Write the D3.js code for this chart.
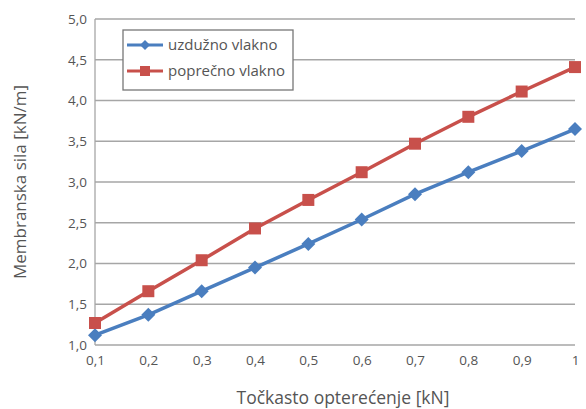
<!DOCTYPE html>
<html>
<head>
<meta charset="utf-8">
<script src="https://cdn.jsdelivr.net/npm/d3@7"></script>
<style>
  body { margin: 0; background: #fff; }
  text { font-family: 'Open Sans', sans-serif; fill: #555; }
</style>
</head>
<body>
<script>
const width = 586
const height = 409

// tocke opterecenja [kN]
const loads = [0.1, 0.2, 0.3, 0.4, 0.5, 0.6, 0.7, 0.8, 0.9, 1.0]
const loadLabels = ['0,1', '0,2', '0,3', '0,4', '0,5', '0,6', '0,7', '0,8', '0,9', '1']
const uzduzno = [1.12, 1.37, 1.66, 1.95, 2.24, 2.54, 2.85, 3.12, 3.38, 3.65]
const poprecno = [1.27, 1.66, 2.04, 2.43, 2.78, 3.12, 3.47, 3.80, 4.11, 4.41]
const yTicks = [1.0, 1.5, 2.0, 2.5, 3.0, 3.5, 4.0, 4.5, 5.0]

const series = [
  { name: 'uzdužno vlakno', values: uzduzno, color: '#4a7ebf', marker: 'diamond' },
  { name: 'poprečno vlakno', values: poprecno, color: '#c8504b', marker: 'square' }
]

const margin = { top: 19, right: 11, bottom: 64, left: 95 }

const svg = d3.select('body').append('svg')
  .attr('width', width)
  .attr('height', height)

const x = d3.scalePoint()
  .domain(loads)
  .range([margin.left, width - margin.right])

const y = d3.scaleLinear()
  .domain([1, 5])
  .range([height - margin.bottom, margin.top])

// mreza
svg.append('g')
  .selectAll('line')
  .data(yTicks)
  .enter()
  .append('line')
  .attr('x1', margin.left)
  .attr('x2', width - margin.right)
  .attr('y1', d => y(d))
  .attr('y2', d => y(d))
  .attr('stroke', '#a6a6a6')
  .attr('stroke-width', 1.3)

// lijeva os
svg.append('line')
  .attr('x1', margin.left).attr('x2', margin.left)
  .attr('y1', y(5)).attr('y2', y(1))
  .attr('stroke', '#a6a6a6')
  .attr('stroke-width', 1.3)

const yAxis = svg.append('g')
  .attr('transform', `translate(${margin.left},0)`)
  .call(d3.axisLeft(y).tickValues(yTicks).tickSize(0).tickPadding(8)
    .tickFormat(d => d3.format('.1f')(d).replace('.', ',')))
yAxis.select('.domain').remove()
yAxis.selectAll('text').style('font-size', '13.5px').attr('fill', '#555')

const xAxis = svg.append('g')
  .attr('transform', `translate(0,${height - margin.bottom})`)
  .call(d3.axisBottom(x).tickSize(0).tickPadding(10)
    .tickFormat((d, i) => loadLabels[i]))
xAxis.select('.domain').remove()
xAxis.selectAll('text').style('font-size', '13.5px').attr('fill', '#555')

// linije
const line = d3.line()
  .x((d, i) => x(loads[i]))
  .y(d => y(d))

function drawMarker (g, type, cx, cy, color) {
  if (type === 'diamond') {
    g.append('path')
      .attr('d', `M${cx},${cy - 7}L${cx + 7},${cy}L${cx},${cy + 7}L${cx - 7},${cy}Z`)
      .attr('fill', color)
  } else {
    g.append('rect')
      .attr('x', cx - 6).attr('y', cy - 6)
      .attr('width', 12).attr('height', 12)
      .attr('fill', color)
  }
}

series.forEach(s => {
  const g = svg.append('g')
  g.append('path')
    .datum(s.values)
    .attr('d', line)
    .attr('fill', 'none')
    .attr('stroke', s.color)
    .attr('stroke-width', 3.5)
  s.values.forEach((v, i) => drawMarker(g, s.marker, x(loads[i]), y(v), s.color))
})

// legenda
const legend = svg.append('g').attr('transform', 'translate(123,30)')
legend.append('rect')
  .attr('width', 170).attr('height', 60)
  .attr('fill', '#fff')
  .attr('stroke', '#777')
  .attr('stroke-width', 1.3)

series.forEach((s, i) => {
  const ly = 15 + i * 26
  legend.append('line')
    .attr('x1', 4).attr('x2', 40)
    .attr('y1', ly).attr('y2', ly)
    .attr('stroke', s.color)
    .attr('stroke-width', 3)
  if (s.marker === 'diamond') {
    legend.append('path')
      .attr('d', `M22,${ly - 5}L27,${ly}L22,${ly + 5}L17,${ly}Z`)
      .attr('fill', s.color)
  } else {
    legend.append('rect')
      .attr('x', 17).attr('y', ly - 5)
      .attr('width', 10).attr('height', 10)
      .attr('fill', s.color)
  }
  legend.append('text')
    .attr('x', 45).attr('y', ly)
    .attr('dy', '0.35em')
    .style('font-size', '15px')
    .attr('fill', '#444')
    .text(s.name)
})

// naslovi osi
svg.append('text')
  .attr('x', 343)
  .attr('y', 404)
  .attr('text-anchor', 'middle')
  .style('font-size', '17.5px')
  .text('Točkasto opterećenje [kN]')

svg.append('text')
  .attr('transform', `translate(26,${(y(1) + y(5)) / 2}) rotate(-90)`)
  .attr('text-anchor', 'middle')
  .style('font-size', '17px')
  .text('Membranska sila [kN/m]')
</script>
</body>
</html>
